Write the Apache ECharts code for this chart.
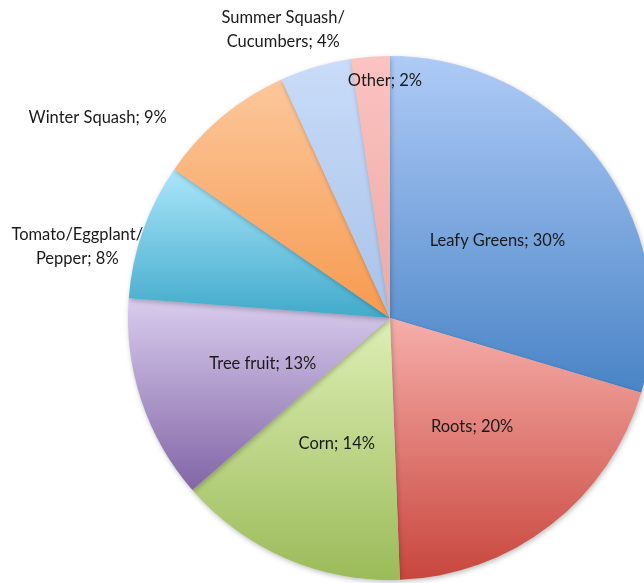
<!DOCTYPE html>
<html>
<head>
<meta charset="utf-8">
<script src="https://cdn.jsdelivr.net/npm/echarts@6/dist/echarts.min.js"></script>
<style>
html,body{margin:0;padding:0;background:#fff;}
#chart{width:644px;height:583px;}
</style>
</head>
<body>
<div id="chart"></div>
<script>
// Data (clockwise from 12 o'clock)
var categories = ['Leafy Greens', 'Roots', 'Corn', 'Tree fruit', 'Tomato/Eggplant/\nPepper', 'Winter Squash', 'Summer Squash/\nCucumbers', 'Other'];
var values = [29.6, 19.8, 14.2, 12.6, 8.4, 8.6, 4.4, 2.4];

// Styles
var topColors = ['#afcbf7', '#f6aeaa', '#deefb6', '#d9cdee', '#abe6fa', '#fcc79c', '#c9dcf9', '#fcc3c0'];
var bottomColors = ['#4984c6', '#c8463d', '#9bbb59', '#8265a6', '#41aacb', '#f79a4f', '#a8c2e9', '#eba9a6'];
var labelPos = ['inside', 'inside', 'inside', 'inside', 'outside', 'outside', 'outside', 'outside'];
var lineLen = [0, 0, 0, 0, -47, 0, 39, -24];
var lineLen2 = [0, 0, 0, 0, 39, 50, -50, -55];

var chart = echarts.init(document.getElementById('chart'));
var data = categories.map(function (name, i) {
  return {
    name: name,
    value: values[i],
    itemStyle: {
      color: {
        type: 'linear', x: 0, y: 0, x2: 0, y2: 1,
        colorStops: [{offset: 0, color: topColors[i]}, {offset: 1, color: bottomColors[i]}]
      }
    },
    label: {position: labelPos[i], padding: labelPos[i] === 'inside' ? [6, 0, 0, 0] : 0},
    labelLine: {show: false, length: lineLen[i], length2: lineLen2[i]}
  };
});

chart.setOption({
  animation: false,
  series: [{
    type: 'pie',
    center: [390, 318],
    radius: 262,
    startAngle: 90,
    clockwise: true,
    avoidLabelOverlap: false,
    percentPrecision: 0,
    data: data,
    itemStyle: {
      borderWidth: 0,
      shadowBlur: 5,
      shadowOffsetX: 1,
      shadowOffsetY: 2,
      shadowColor: 'rgba(0,0,0,0.25)'
    },
    label: {
      show: true,
      color: '#1a1a1a',
      fontFamily: 'Lato',
      fontSize: 16.5,
      distanceToLabelLine: 5,
      formatter: function (p) {
        var txt = p.name + '; ' + p.percent + '%';
        var lines = txt.split('\n');
        if (lines.length === 1) return txt;
        return lines.map(function (s) { return '{c|' + s + '}'; }).join('\n');
      },
      rich: {
        c: {width: 132, align: 'center', lineHeight: 24, fontFamily: 'Lato', fontSize: 16.5, color: '#1a1a1a'}
      }
    },
    emphasis: {disabled: true}
  }]
});
</script>
</body>
</html>
